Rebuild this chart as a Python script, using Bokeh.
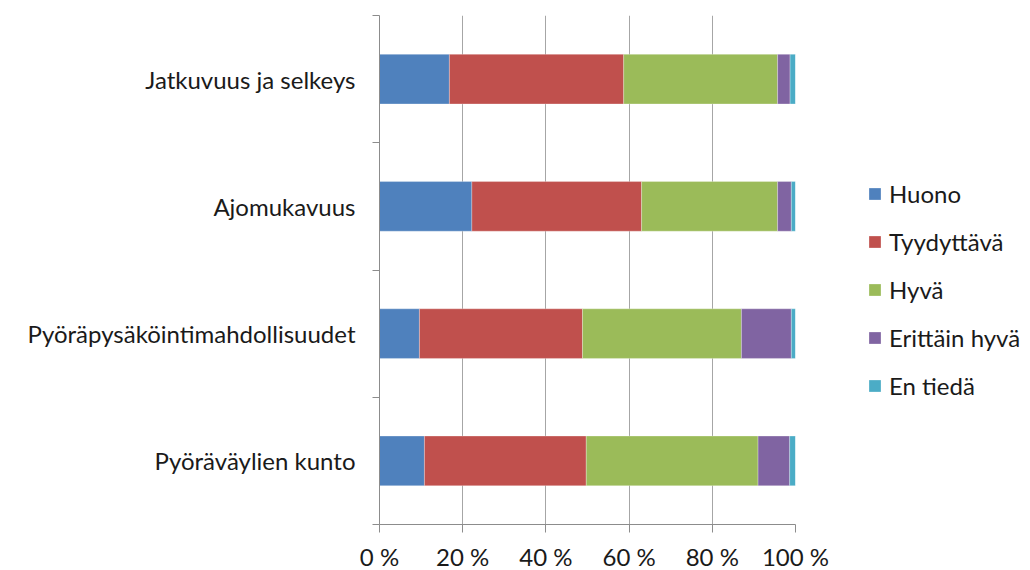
import numpy as np
from bokeh.plotting import figure
from bokeh.models import (ColumnDataSource, FixedTicker, Legend, LegendItem)
from bokeh.embed import file_html
from bokeh.resources import INLINE

# ---- data (bottom to top) ----
categories = ["Pyöräväylien kunto", "Pyöräpysäköintimahdollisuudet",
              "Ajomukavuus", "Jatkuvuus ja selkeys"]
series_names = ["Huono", "Tyydyttävä", "Hyvä", "Erittäin hyvä", "En tiedä"]
huono = [10.8, 9.6, 22.2, 16.8]
tyydyttava = [38.9, 39.2, 40.8, 41.9]
hyva = [41.3, 38.2, 32.7, 37.0]
erittain_hyva = [7.6, 12.0, 3.3, 3.0]
en_tieda = [1.4, 1.0, 1.0, 1.3]
x_ticks = [0, 20, 40, 60, 80, 100]
x_tick_labels = ["0 %", "20 %", "40 %", "60 %", "80 %", "100 %"]

colors = ["#4F81BD", "#C0504D", "#9BBB59", "#8064A2", "#4BACC6"]
FONT = "Lato"
FS = "24px"
TEXT = "#1a1a1a"

ypos = [i + 0.5 for i in range(len(categories))]
src = ColumnDataSource(dict(y=ypos, s0=huono, s1=tyydyttava, s2=hyva,
                            s3=erittain_hyva, s4=en_tieda))
keys = ["s0", "s1", "s2", "s3", "s4"]

p = figure(frame_width=416, frame_height=509, x_range=(0, 100), y_range=(0, 4),
           output_backend="svg", toolbar_location=None,
           min_border_left=379, min_border_top=15, min_border_right=235,
           min_border_bottom=30)
p.outline_line_color = None

rs = p.hbar_stack(keys, y="y", height=0.39, color=colors, source=src,
                  line_color="#ffffff", line_alpha=0.35, line_width=0.8)

# grid
p.ygrid.visible = False
p.xgrid.ticker = FixedTicker(ticks=x_ticks)
p.xgrid.grid_line_color = "#a6a6a6"
p.xgrid.grid_line_width = 1

# x axis
xa = p.xaxis[0]
xa.ticker = FixedTicker(ticks=x_ticks)
xa.major_label_overrides = {t: l for t, l in zip(x_ticks, x_tick_labels)}
xa.axis_line_color = "#8c8c8c"
xa.major_tick_line_color = "#8c8c8c"
xa.major_tick_in = 0
xa.major_tick_out = 8
xa.minor_tick_line_color = None
xa.major_label_text_font = FONT
xa.major_label_text_font_size = FS
xa.major_label_text_color = TEXT
xa.major_label_standoff = 9

# y axis
ya = p.yaxis[0]
ya.ticker = FixedTicker(ticks=ypos, minor_ticks=list(range(len(categories) + 1)))
ya.major_label_overrides = {y: c for y, c in zip(ypos, categories)}
ya.axis_line_color = "#8c8c8c"
ya.major_tick_line_color = None
ya.major_tick_in = 0
ya.major_tick_out = 0
ya.minor_tick_line_color = "#8c8c8c"
ya.minor_tick_in = 0
ya.minor_tick_out = 7
ya.major_label_text_font = FONT
ya.major_label_text_font_size = FS
ya.major_label_text_color = TEXT
ya.major_label_standoff = 17

legend = Legend(items=[LegendItem(label=n, renderers=[r]) for n, r in zip(series_names, rs)],
                location=(72, 124), orientation="vertical",
                glyph_width=15, glyph_height=15, label_standoff=7,
                label_height=30,
                label_text_font=FONT, label_text_font_size=FS,
                label_text_color=TEXT, spacing=18, padding=0, margin=0,
                border_line_color=None, background_fill_alpha=0)
p.add_layout(legend, "right")

open("out.html", "w").write(file_html(p, INLINE))
